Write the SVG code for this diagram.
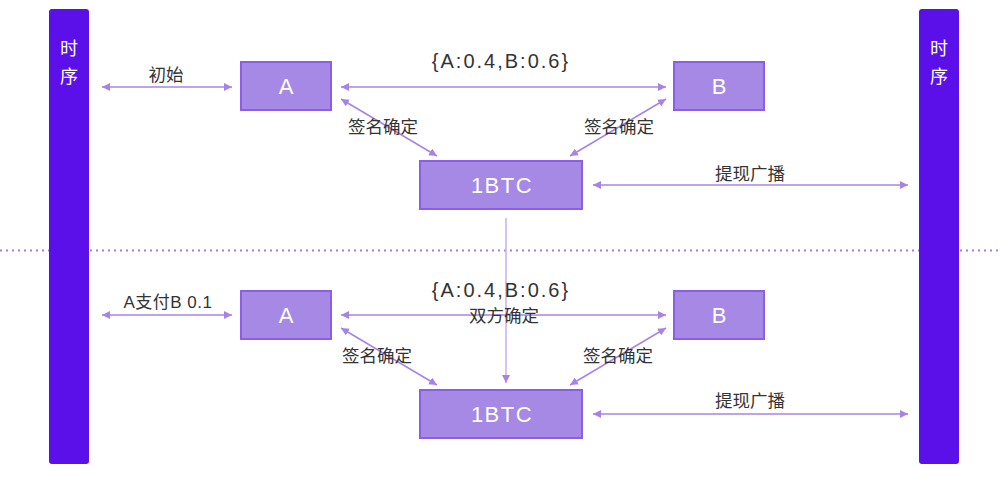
<svg xmlns="http://www.w3.org/2000/svg" width="1002" height="479" viewBox="0 0 1002 479">
<style>
.bar{fill:#5b10ea}
.node{fill:#a589e4;stroke:#8b5ee8;stroke-width:2}
.nt{fill:#fff;font-family:"Liberation Sans","Noto Sans CJK SC",sans-serif;font-size:22px;text-anchor:middle}
.nt2{fill:#fff;font-family:"Liberation Sans","Noto Sans CJK SC",sans-serif;font-size:22px;letter-spacing:1.5px;text-anchor:middle}
.bt{fill:#fff;font-family:"Noto Sans CJK SC",sans-serif;font-size:18px;text-anchor:middle}
.lbl{fill:#333;font-family:"Liberation Sans","Noto Sans CJK SC",sans-serif;font-size:17.5px;text-anchor:middle}
.lbl2{fill:#333;font-family:"Liberation Sans","Noto Sans CJK SC",sans-serif;font-size:17px;letter-spacing:0.5px;text-anchor:middle}
.big{fill:#333;font-family:"Liberation Sans","Noto Sans CJK SC",sans-serif;font-size:20px;letter-spacing:2px;text-anchor:middle}
.c{stroke:#a783e8;stroke-width:1.5;fill:none;marker-start:url(#ah);marker-end:url(#ah)}
.v{stroke:#c6b0f0;stroke-width:1.5;fill:none;marker-end:url(#ah)}
</style>
<defs>
<marker id="ah" viewBox="0 0 10 10" refX="10" refY="5" markerWidth="8" markerHeight="8" markerUnits="userSpaceOnUse" orient="auto-start-reverse">
<path d="M0,0 L10,5 L0,10 z" fill="#a783e8"/>
</marker>
</defs>
<rect width="1002" height="479" fill="#fff"/>
<line x1="0" y1="250.5" x2="1002" y2="250.5" stroke="#a17ee6" stroke-width="2" stroke-dasharray="2,4"/>
<g id="timeline-left">
<rect class="bar" x="49" y="9" width="40" height="455" rx="3"/>
<text class="bt" x="69" y="55">时</text>
<text class="bt" x="69" y="83">序</text>
</g>
<g id="timeline-right">
<rect class="bar" x="919" y="9" width="40" height="455" rx="3"/>
<text class="bt" x="939" y="55">时</text>
<text class="bt" x="939" y="83">序</text>
</g>
<g id="connectors">
<line class="c" x1="102" y1="87" x2="232" y2="87"/>
<line class="c" x1="341" y1="87" x2="666" y2="87"/>
<line class="c" x1="341" y1="99" x2="437" y2="156"/>
<line class="c" x1="666" y1="99" x2="570" y2="156"/>
<line class="c" x1="593" y1="185" x2="908" y2="185"/>
<line class="v" x1="506" y1="218" x2="506" y2="383"/>
<line class="c" x1="102" y1="315" x2="232" y2="315"/>
<line class="c" x1="341" y1="315" x2="666" y2="315"/>
<line class="c" x1="341" y1="328" x2="437" y2="385"/>
<line class="c" x1="666" y1="328" x2="570" y2="385"/>
<line class="c" x1="593" y1="414" x2="908" y2="414"/>
</g>
<g id="labels">
<text class="lbl" x="166" y="81">初始</text>
<text class="big" x="501" y="68">{A:0.4,B:0.6}</text>
<text class="lbl" x="383" y="133">签名确定</text>
<text class="lbl" x="619" y="133">签名确定</text>
<text class="lbl" x="750" y="180">提现广播</text>
<text class="lbl2" x="168" y="308">A支付B 0.1</text>
<text class="big" x="501" y="297">{A:0.4,B:0.6}</text>
<text class="lbl" x="504" y="322">双方确定</text>
<text class="lbl" x="377" y="362">签名确定</text>
<text class="lbl" x="618" y="362">签名确定</text>
<text class="lbl" x="750" y="407">提现广播</text>
</g>
<g id="node-A1"><rect class="node" x="241" y="62" width="90" height="48"/><text class="nt" x="286" y="94">A</text></g>
<g id="node-B1"><rect class="node" x="674" y="62" width="90" height="48"/><text class="nt" x="719" y="94">B</text></g>
<g id="node-BTC1"><rect class="node" x="420" y="161" width="162" height="48"/><text class="nt2" x="502" y="193">1BTC</text></g>
<g id="node-A2"><rect class="node" x="241" y="291" width="90" height="48"/><text class="nt" x="286" y="323">A</text></g>
<g id="node-B2"><rect class="node" x="674" y="291" width="90" height="48"/><text class="nt" x="719" y="323">B</text></g>
<g id="node-BTC2"><rect class="node" x="420" y="390" width="162" height="48"/><text class="nt2" x="502" y="422">1BTC</text></g>
</svg>
